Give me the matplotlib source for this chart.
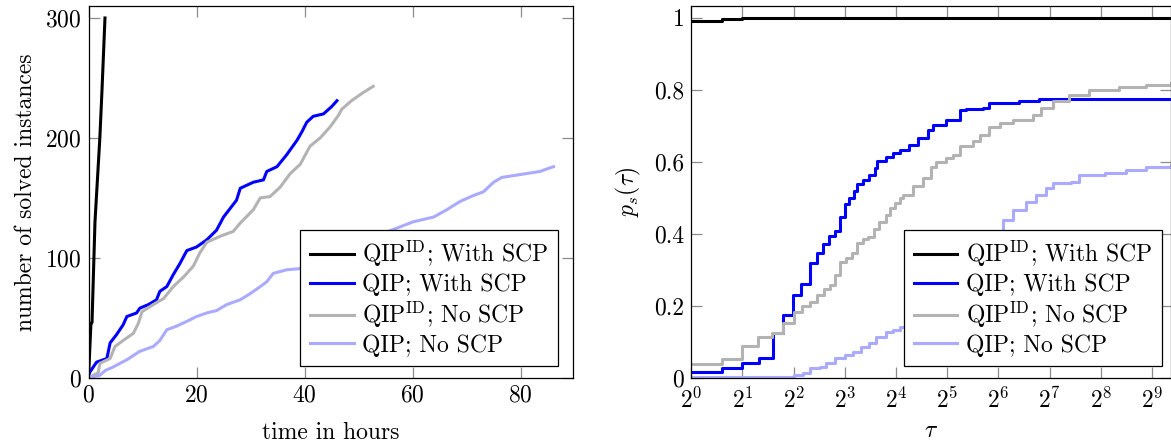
import matplotlib
matplotlib.use('Agg')
import matplotlib.pyplot as plt
import numpy as np

plt.rcParams['font.family'] = 'serif'
plt.rcParams['font.serif'] = ['cmr10']
plt.rcParams['mathtext.fontset'] = 'cm'
plt.rcParams['axes.unicode_minus'] = False
plt.rcParams['axes.formatter.use_mathtext'] = True

FS = 17

labels = [r'QIP$^{\rm ID}$; With SCP', 'QIP; With SCP',
          r'QIP$^{\rm ID}$; No SCP', 'QIP; No SCP']
colors = ['black', '#0000ff', '#b3b3b3', '#aaaaff']

# solved instances over time (hours)
t_id_scp = [0, 0.45, 0.65, 1.2, 2.1, 2.5, 3.05]
n_id_scp = [0, 45, 46, 130, 200, 240, 300]

t_qip_scp = [0, 0.15, 1.5, 3.4, 4.0, 5.2, 6.4, 7.1, 8.9, 9.5, 11.1, 12.6, 13.2, 14.5,
             15.7, 16.9, 18.2, 20.0, 21.9, 23.7, 25.0, 26.2, 27.4, 28.1, 30.5, 32.4,
             33.0, 34.9, 36.7, 38.6, 39.5, 40.4, 41.6, 43.5, 45.0, 46.0]
n_qip_scp = [0, 4, 13, 16, 29, 36, 44, 51, 54, 58, 61, 65, 72, 76,
             86, 95, 106, 109, 115, 123, 134, 141, 148, 158, 163, 165,
             172, 176, 186, 198, 205, 213, 218, 220, 226, 231]

t_id_noscp = [0, 1.8, 2.1, 4.0, 4.9, 6.4, 8.3, 9.2, 9.9, 12.0, 13.9, 15.7, 17.6, 19.4,
              20.6, 21.9, 24.4, 26.8, 28.1, 30.5, 31.8, 33.6, 35.5, 37.3, 39.2, 41.0,
              42.9, 44.7, 46.3, 46.9, 48.7, 50.6, 52.7]
n_id_noscp = [0, 4, 12, 16, 26, 31, 37, 45, 55, 61, 66, 76, 84, 93,
              104, 113, 118, 122, 129, 140, 150, 151, 159, 170, 178, 193,
              200, 209, 219, 224, 231, 237, 243]

t_qip_noscp = [0, 2.1, 3.1, 4.6, 7.1, 9.5, 12.0, 13.2, 14.5, 16.3, 18.2, 20.0, 21.9,
               23.7, 25.6, 28.1, 29.9, 31.8, 33.0, 34.2, 36.7, 39.2, 45, 50, 55.5,
               60.1, 63.9, 66.3, 68.8, 71.3, 73.1, 75.0, 76.5, 79.3, 83.6, 84.8, 86.1]
n_qip_noscp = [0, 2, 6, 9, 15, 22, 26, 31, 40, 43, 47, 51, 54,
               56, 61, 65, 70, 76, 80, 87, 90, 91, 97, 108, 122,
               130, 134, 140, 147, 152, 155, 163, 167, 169, 172, 174, 176]

# performance profile, tau given as log2 exponents
e_id_scp = [0, 0.59, 1.0, 9.36]
p_id_scp = [0.99, 0.995, 1.0, 1.0]

e_qip_scp = [0, 0.59, 1.0, 1.33, 1.59, 1.79, 1.99, 2.15, 2.31, 2.46, 2.57, 2.69, 2.80,
             2.90, 3.0, 3.09, 3.17, 3.24, 3.35, 3.47, 3.58, 3.63, 3.81, 3.94, 4.07,
             4.26, 4.43, 4.62, 4.72, 4.98, 5.24, 5.37, 5.69, 5.82, 6.41, 6.80, 9.36]
p_qip_scp = [0.017, 0.028, 0.04, 0.056, 0.123, 0.174, 0.23, 0.26, 0.318, 0.346, 0.371,
             0.394, 0.406, 0.446, 0.483, 0.498, 0.517, 0.538, 0.549, 0.563, 0.582,
             0.603, 0.612, 0.623, 0.631, 0.646, 0.665, 0.688, 0.702, 0.716, 0.742,
             0.746, 0.748, 0.762, 0.769, 0.775, 0.775]

e_id_noscp = [0, 0.59, 1.0, 1.31, 1.57, 1.79, 2.0, 2.17, 2.31, 2.46, 2.59, 2.70, 2.80,
              2.91, 3.03, 3.13, 3.24, 3.35, 3.45, 3.56, 3.66, 3.80, 3.89, 3.97, 4.07,
              4.13, 4.33, 4.52, 4.69, 4.78, 4.98, 5.11, 5.24, 5.50, 5.63, 5.82, 6.02,
              6.28, 6.67, 6.83, 7.06, 7.38, 7.77, 8.36, 8.88, 9.36]
p_id_noscp = [0.037, 0.051, 0.088, 0.114, 0.125, 0.151, 0.182, 0.199, 0.211, 0.23,
              0.245, 0.256, 0.285, 0.32, 0.332, 0.347, 0.373, 0.384, 0.392, 0.412,
              0.431, 0.452, 0.471, 0.486, 0.5, 0.507, 0.531, 0.554, 0.586, 0.6, 0.609,
              0.619, 0.642, 0.656, 0.674, 0.697, 0.707, 0.716, 0.73, 0.748, 0.767,
              0.785, 0.799, 0.807, 0.813, 0.818]

e_qip_noscp = [0, 2.0, 2.18, 2.31, 2.51, 2.64, 2.80, 3.0, 3.16, 3.32, 3.48, 3.61, 3.81,
               3.94, 4.07, 4.20, 4.6, 5.0, 5.4, 5.7, 5.89, 6.08, 6.28, 6.54, 6.73, 6.93,
               7.06, 7.42, 7.58, 8.09, 8.49, 8.88, 9.36]
p_qip_noscp = [0.003, 0.008, 0.014, 0.026, 0.031, 0.04, 0.054, 0.063, 0.072, 0.086,
               0.096, 0.114, 0.128, 0.132, 0.142, 0.156, 0.2, 0.25, 0.31, 0.36, 0.401,
               0.438, 0.466, 0.489, 0.508, 0.526, 0.54, 0.544, 0.563, 0.568, 0.577,
               0.586, 0.591]

fig = plt.figure(figsize=(11.71, 4.46), dpi=100)
W, H = 1171., 446.
ax1 = fig.add_axes([88.5/W, 1-377.7/H, (573-88.5)/W, (377.7-6)/H])
ax2 = fig.add_axes([691.3/W, 1-377.7/H, (1170.5-691.3)/W, (377.7-6)/H])


def style(ax, xpad=5):
    for s in ax.spines.values():
        s.set_linewidth(0.9)
        s.set_color('black')
    ax.tick_params(axis='both', which='major', direction='in', length=8, width=0.9,
                   color='#8c8c8c', top=True, right=True, labelsize=FS, pad=5)
    ax.tick_params(axis='x', which='major', pad=xpad)
    ax.tick_params(axis='both', which='minor', length=0)


#### Left: solved instances
lw = 2.2
ax1.plot(t_id_scp, n_id_scp, color=colors[0], lw=lw, label=labels[0])
ax1.plot(t_qip_scp, n_qip_scp, color=colors[1], lw=lw, label=labels[1])
ax1.plot(t_id_noscp, n_id_noscp, color=colors[2], lw=lw, label=labels[2])
ax1.plot(t_qip_noscp, n_qip_noscp, color=colors[3], lw=lw, label=labels[3])
ax1.set_xlim(0, 89.7)
ax1.set_ylim(0, 310)
ax1.set_xticks([0, 20, 40, 60, 80])
ax1.set_yticks([0, 100, 200, 300])
style(ax1)
ax1.set_xlabel('time in hours', fontsize=FS, labelpad=11)
ax1.set_ylabel('number of solved instances', fontsize=FS, labelpad=6)

#### Right: performance profile
ax2.set_xscale('log', base=2)
for e, p, c, l in [(e_id_scp, p_id_scp, colors[0], labels[0]),
                   (e_qip_scp, p_qip_scp, colors[1], labels[1]),
                   (e_id_noscp, p_id_noscp, colors[2], labels[2]),
                   (e_qip_noscp, p_qip_noscp, colors[3], labels[3])]:
    ax2.plot(2.0**np.array(e), p, color=c, lw=lw, drawstyle='steps-post', label=l)
ax2.set_xlim(1, 2**9.36)
ax2.set_ylim(0, 1.032)
ax2.set_xticks([2**k for k in range(10)])
ax2.set_xticklabels([r'$2^{%d}$' % k for k in range(10)])
ax2.set_yticks([0, 0.2, 0.4, 0.6, 0.8, 1.0])
ax2.set_yticklabels(['0', '0.2', '0.4', '0.6', '0.8', '1'])
style(ax2, xpad=7)
ax2.set_xlabel(r'$\tau$', fontsize=FS, labelpad=5)
ax2.set_ylabel(r'$p_s(\tau)$', fontsize=FS, labelpad=8)

for ax, xr in [(ax1, 0.969), (ax2, 0.9816)]:
    leg = ax.legend(loc='lower right', bbox_to_anchor=(xr, 0.0315), fontsize=FS,
                    fancybox=False, framealpha=1, edgecolor='black',
                    borderpad=0.4, labelspacing=0.17, handlelength=1.86,
                    handletextpad=0.36, borderaxespad=0)
    leg.get_frame().set_linewidth(0.9)

fig.savefig('out.png', dpi=100)
